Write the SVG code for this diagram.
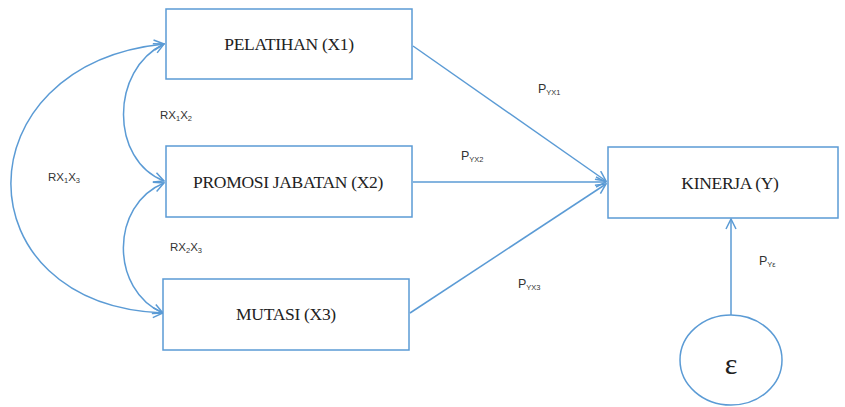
<svg xmlns="http://www.w3.org/2000/svg" width="845" height="407" viewBox="0 0 845 407">
<style>
.box{fill:#fff;stroke:#5B9BD5;stroke-width:1.5}
.t{font-family:"Liberation Serif",serif;font-size:17.5px;fill:#222;text-anchor:middle;letter-spacing:-0.3px}
.l{font-family:"Liberation Sans",sans-serif;font-size:11.5px;fill:#333}
.s{font-size:7.5px}
.c{fill:none;stroke:#5B9BD5;stroke-width:1.5}
</style>
<defs>
<marker id="ah" viewBox="0 0 12 12" refX="11" refY="6" markerWidth="12" markerHeight="12" markerUnits="userSpaceOnUse" orient="auto-start-reverse">
<path d="M1,1 L11,6 L1,11" fill="none" stroke="#5B9BD5" stroke-width="1.5"/>
</marker>
</defs>
<rect width="845" height="407" fill="#fff"/>
<g id="connectors">
<path class="c" d="M164,44 C -40,65 -40,305 163,313" marker-start="url(#ah)" marker-end="url(#ah)"/>
<path class="c" d="M164,44 C 110,70 110,160 164,181" marker-start="url(#ah)" marker-end="url(#ah)"/>
<path class="c" d="M164,183 C 110,205 110,290 163,313" marker-start="url(#ah)" marker-end="url(#ah)"/>
<line class="c" x1="413" y1="46" x2="606" y2="181" marker-end="url(#ah)"/>
<line class="c" x1="413" y1="182" x2="606" y2="182" marker-end="url(#ah)"/>
<line class="c" x1="410" y1="313" x2="606" y2="184" marker-end="url(#ah)"/>
<line class="c" x1="731" y1="315" x2="731" y2="219" marker-end="url(#ah)"/>
<text class="l" x="160" y="119">RX<tspan class="s" dy="2">1</tspan><tspan dy="-2">X</tspan><tspan class="s" dy="2">2</tspan></text>
<text class="l" x="48" y="181">RX<tspan class="s" dy="2">1</tspan><tspan dy="-2">X</tspan><tspan class="s" dy="2">3</tspan></text>
<text class="l" x="170" y="251">RX<tspan class="s" dy="2">2</tspan><tspan dy="-2">X</tspan><tspan class="s" dy="2">3</tspan></text>
<text class="l" x="538" y="93" style="font-size:12.5px">P<tspan class="s" dy="2">YX1</tspan></text>
<text class="l" x="461" y="160" style="font-size:12.5px">P<tspan class="s" dy="2">YX2</tspan></text>
<text class="l" x="518" y="288" style="font-size:12.5px">P<tspan class="s" dy="2">YX3</tspan></text>
<text class="l" x="759" y="265" style="font-size:12.5px">P<tspan class="s" dy="2">Yε</tspan></text>
</g>
<g id="x1"><rect class="box" x="166" y="9" width="246" height="70"/><text class="t" x="289" y="50">PELATIHAN (X1)</text></g>
<g id="x2"><rect class="box" x="166" y="146" width="246" height="71"/><text class="t" x="288" y="188">PROMOSI JABATAN (X2)</text></g>
<g id="x3"><rect class="box" x="163" y="279" width="246" height="71"/><text class="t" x="286" y="320">MUTASI (X3)</text></g>
<g id="y"><rect class="box" x="608" y="147" width="230" height="71"/><text class="t" x="730" y="189">KINERJA (Y)</text></g>
<g id="e"><ellipse class="box" cx="731" cy="360" rx="51" ry="45"/><text class="t" x="731" y="374" style="font-size:30px">ε</text></g>
</svg>
